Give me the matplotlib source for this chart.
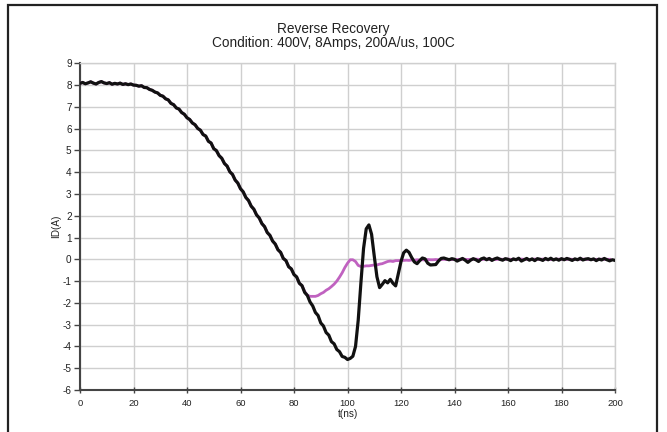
import numpy as np
import matplotlib
matplotlib.use("Agg")
import matplotlib.pyplot as plt
from matplotlib.patches import Rectangle

plt.rcParams['font.family'] = ['Liberation Sans', 'DejaVu Sans']
plt.rcParams['axes.unicode_minus'] = False

# time axis, 1 ns per sample
t = np.arange(0, 201)

# drain current, black trace
id_black = [
    8.08, 8.12, 8.06, 8.10, 8.15, 8.09, 8.05, 8.12, 8.16, 8.10, 8.07, 8.11, 8.04, 8.08, 8.05, 8.09, 8.03, 8.06, 8.02, 8.05, 8.00,
    7.99, 7.95, 7.97, 7.89, 7.88, 7.80, 7.76, 7.68, 7.64, 7.53, 7.49, 7.37, 7.32, 7.16, 7.10, 6.95, 6.90, 6.74, 6.66, 6.50,
    6.42, 6.26, 6.18, 6.01, 5.93, 5.73, 5.66, 5.42, 5.34, 5.08, 4.99, 4.76, 4.64, 4.40, 4.28, 4.02, 3.90, 3.64, 3.50, 3.24,
    3.10, 2.84, 2.70, 2.44, 2.30, 2.04, 1.90, 1.64, 1.50, 1.23, 1.10, 0.84, 0.70, 0.44, 0.32, 0.04, -0.06, -0.34, -0.44, -0.70,
    -0.81, -1.10, -1.21, -1.52, -1.66, -1.96, -2.14, -2.44, -2.58, -2.92, -3.06, -3.36, -3.48, -3.78, -3.88, -4.14, -4.24, -4.46, -4.50, -4.60,
    -4.55, -4.45, -4.00, -2.80, -1.10, 0.50, 1.40, 1.58, 1.15, 0.15, -0.80, -1.30, -1.15, -0.98, -1.08, -0.92, -1.10, -1.22, -0.65, -0.10,
    0.30, 0.42, 0.32, 0.08, -0.12, -0.20, -0.06, 0.06, 0.02, -0.18, -0.26, -0.25, -0.24, -0.08, 0.04, 0.06, 0.02, -0.02, 0.03, 0.00,
    -0.08, -0.02, 0.04, -0.04, -0.14, -0.04, 0.03, -0.02, -0.10, 0.02, 0.06, -0.02, 0.04, -0.05, 0.02, 0.06, 0.00, -0.04, 0.03, 0.00,
    -0.06, 0.02, -0.02, 0.05, -0.08, -0.02, 0.04, -0.04, 0.02, -0.06, 0.03, 0.00, -0.05, 0.04, -0.02, 0.05, -0.03, 0.02, -0.04, 0.03,
    -0.02, 0.04, 0.00, -0.05, 0.02, -0.02, 0.05, -0.03, 0.01, 0.03, -0.02, 0.02, -0.06, 0.01, -0.03, 0.04, -0.02, -0.07, -0.02, -0.05,
]

# magenta trace: identical to black up to 83 ns, then its own values
id_magenta_tail = [
    -1.48, -1.65, -1.70, -1.70, -1.70, -1.66, -1.58, -1.52, -1.42, -1.35, -1.25, -1.14, -1.00, -0.82, -0.62, -0.38, -0.18,
    -0.02, -0.02, -0.10, -0.28, -0.33, -0.32, -0.30, -0.30, -0.28, -0.26, -0.26, -0.22, -0.20, -0.15, -0.10, -0.08, -0.10,
    -0.06, -0.06, -0.05,
    -0.05, -0.04, -0.05, -0.03, -0.04, -0.02, -0.03, -0.02, -0.03, -0.01, -0.02, -0.02, -0.01, -0.02, -0.01, 0.00, -0.01, -0.02,
    -0.01, 0.00, -0.01, 0.00, 0.01, 0.00, -0.01, 0.00, 0.00, 0.01, 0.00, -0.01, 0.00, 0.01, 0.00, 0.00, -0.01, 0.00, 0.01, 0.00,
    0.00, 0.01, 0.00, -0.01, 0.00, 0.00, 0.01, 0.00, 0.00, -0.01, 0.00, 0.01, 0.00, 0.00, 0.01, 0.00, 0.00, -0.01, 0.00, 0.00,
    0.01, 0.00, 0.00, 0.00, 0.01, 0.00, -0.01, 0.00, 0.00, 0.01, 0.00, 0.00, 0.00, -0.01, 0.00, 0.00, 0.01, 0.00, 0.00, 0.00,
]
id_magenta = id_black[:84] + id_magenta_tail[:201 - 84]

x_ticks = list(range(0, 201, 20))
y_ticks = list(range(-6, 10))

fig = plt.figure(figsize=(6.67, 4.32), dpi=100)
fig.patch.set_facecolor('white')

# outer frame around the chart
fig.patches.append(Rectangle((8 / 667, -0.02), 649 / 667, 0.02 + (432 - 5) / 432,
                             transform=fig.transFigure, fill=False,
                             edgecolor='#222222', linewidth=1.6))

ax = fig.add_axes([80 / 667, 42 / 432, 535 / 667, 326.7 / 432])

ax.plot(t[:len(id_magenta)], id_magenta, color='#c062c0', lw=2.0, zorder=3)
ax.plot(t[:len(id_black)], id_black, color='#111111', lw=2.3, zorder=4)

ax.set_xlim(0, 200)
ax.set_ylim(-6, 9)
ax.set_xticks(x_ticks)
ax.set_yticks(y_ticks)
ax.grid(True, color='#cfcfcf', lw=1.0)
ax.set_axisbelow(True)

for s in ['top', 'right']:
    ax.spines[s].set_color('#cfcfcf')
    ax.spines[s].set_linewidth(1.0)
for s in ['left', 'bottom']:
    ax.spines[s].set_color('#444444')
    ax.spines[s].set_linewidth(1.5)

ax.tick_params(axis='y', direction='out', length=4, width=1, colors='#444444',
               labelsize=7.2, labelcolor='#222222', pad=2)
ax.tick_params(axis='x', direction='inout', length=5, width=1, colors='#444444',
               labelsize=6.8, labelcolor='#222222', pad=4)

ax.set_xlabel('t(ns)', fontsize=7.2, color='#222222', labelpad=1)
ax.set_ylabel('ID(A)', fontsize=7.2, color='#222222', labelpad=1)

fig.text(333 / 667, 1 - 29 / 432, 'Reverse Recovery', ha='center', va='center',
         fontsize=9.8, color='#222222')
fig.text(333 / 667, 1 - 43.5 / 432, 'Condition: 400V, 8Amps, 200A/us, 100C', ha='center',
         va='center', fontsize=9.8, color='#222222')

fig.savefig('out.png', dpi=100)
